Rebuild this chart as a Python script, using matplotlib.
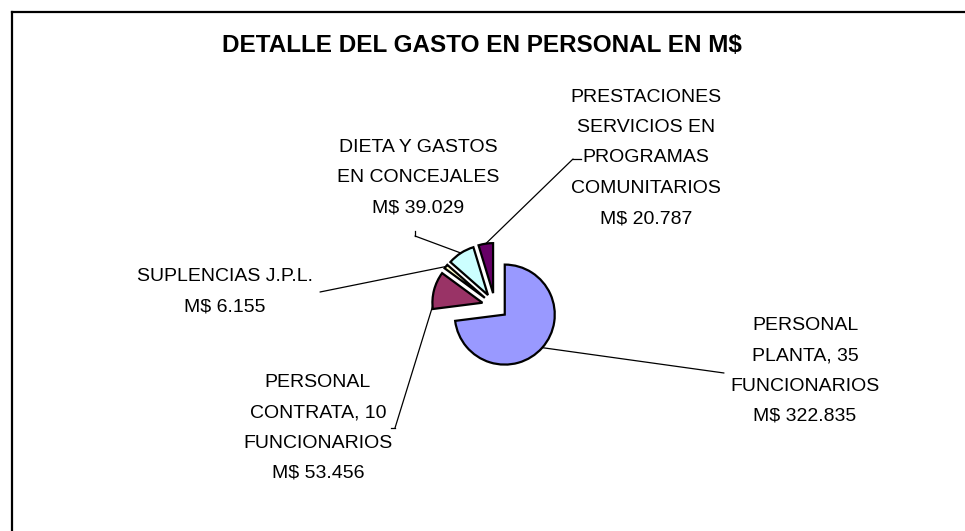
import numpy as np
import matplotlib.pyplot as plt
from matplotlib.lines import Line2D

W, H = 965, 531

labels = ["PERSONAL\nPLANTA, 35\nFUNCIONARIOS\nM$ 322.835",
          "PERSONAL\nCONTRATA, 10\nFUNCIONARIOS\nM$ 53.456",
          "SUPLENCIAS J.P.L.\nM$ 6.155",
          "DIETA Y GASTOS\nEN CONCEJALES\nM$ 39.029",
          "PRESTACIONES\nSERVICIOS EN\nPROGRAMAS\nCOMUNITARIOS\nM$ 20.787"]
values = [322835, 53456, 6155, 39029, 20787]
colors = ["#9999FF", "#993366", "#FFFFCC", "#CCFFFF", "#660066"]

# layout (pixels from top-left)
label_pos = [(805, 371), (318, 428), (225, 292), (418, 178), (646, 158)]
leader_end = [(724, 373), (395, 428), (320, 292), (415, 236), (573, 159)]
leader_tail = [None, (391, 428), None, (415, 231), (581, 159)]
leader_frac = [0.5, 0.93, 0.5, 0.5, 0.5]

plt.rcParams['font.family'] = ['Liberation Sans', 'DejaVu Sans']

def fx(x, y):
    return (x / W, 1 - y / H)

fig = plt.figure(figsize=(W / 100, H / 100), dpi=100)

# pie axes: 50 px per data unit, centre at (495, 306)
cx, cy, half = 495, 306, 150
ax = fig.add_axes([(cx - half) / W, (H - cy - half) / H, 2 * half / W, 2 * half / H])

expl = 0.26
wedges, _ = ax.pie(values, colors=colors, startangle=90, counterclock=False,
                   explode=[expl] * len(values),
                   wedgeprops=dict(edgecolor='black', linewidth=1.6))
ax.set_xlim(-3, 3)
ax.set_ylim(-3, 3)
ax.set_aspect('auto')
ax.axis('off')

for w, lab, lp, le, lt, fr in zip(wedges, labels, label_pos, leader_end, leader_tail, leader_frac):
    th = np.deg2rad(w.theta1 + fr * (w.theta2 - w.theta1))
    x0 = w.center[0] + w.r * np.cos(th)
    y0 = w.center[1] + w.r * np.sin(th)
    ax.annotate('', xy=(x0, y0), xycoords='data',
                xytext=fx(*le), textcoords='figure fraction',
                arrowprops=dict(arrowstyle='-', color='black', lw=0.9,
                                shrinkA=0, shrinkB=0))
    if lt is not None:
        a, b = fx(*le), fx(*lt)
        fig.add_artist(Line2D([a[0], b[0]], [a[1], b[1]], color='black', lw=0.9,
                              transform=fig.transFigure))
    fig.text(*fx(*lp), lab, ha='center', va='center', fontsize=14,
             linespacing=2.02, color='black')

fig.text(*fx(482, 46), "DETALLE DEL GASTO EN PERSONAL EN M$", ha='center', va='center',
         fontsize=17.5, fontweight='bold')

# chart frame (left and top edges visible)
fig.add_artist(Line2D([12 / W, 12 / W], [0, 1 - 12 / H], color='black', lw=1.6,
                      transform=fig.transFigure))
fig.add_artist(Line2D([12 / W, 1], [1 - 12 / H, 1 - 12 / H], color='black', lw=1.6,
                      transform=fig.transFigure))

fig.savefig('out.png', dpi=100, facecolor='white')
